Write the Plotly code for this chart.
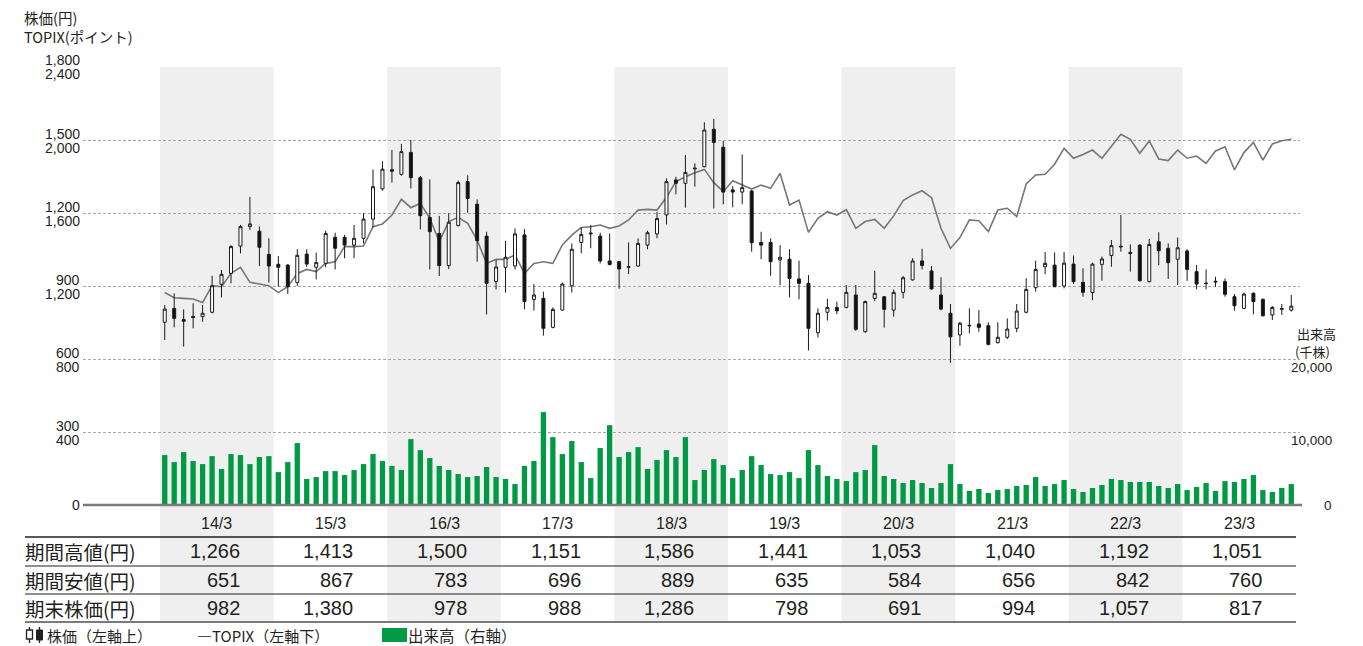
import plotly.graph_objects as go

# ---- data -------------------------------------------------------------
years = ["14/3", "15/3", "16/3", "17/3", "18/3", "19/3", "20/3", "21/3", "22/3", "23/3"]
period_high = [1266, 1413, 1500, 1151, 1586, 1441, 1053, 1040, 1192, 1051]
period_low = [651, 867, 783, 696, 889, 635, 584, 656, 842, 760]
period_close = [982, 1380, 978, 988, 1286, 798, 691, 994, 1057, 817]

# monthly stock price (yen), April 2013 - March 2023
price_open = [751, 808, 762, 775, 774, 792, 907, 952, 1064, 1144, 1125, 1030,
              989, 986, 914, 1031, 977, 993, 1100, 1100, 1068, 1096, 1175, 1299,
              1378, 1359, 1449, 1345, 1182, 1116, 984, 1148, 1329, 1236, 1105, 918,
              977, 982, 1110, 845, 849, 730, 801, 901, 1079, 1114, 1105, 1003,
              1000, 977, 982, 1068, 1114, 1192, 1336, 1322, 1381, 1390, 1544, 1470,
              1295, 1286, 1290, 1079, 1079, 1007, 1010, 929, 911, 708, 792, 812,
              812, 863, 712, 849, 856, 801, 874, 925, 1003, 962, 863, 788,
              699, 736, 744, 737, 667, 689, 726, 792, 893, 979, 986, 900,
              990, 915, 873, 989, 1025, 1060, 1038, 1068, 918, 1082, 1055, 1010,
              1044, 959, 912, 916, 918, 856, 808, 870, 845, 781, 804, 801]
price_high = [822, 870, 804, 829, 822, 942, 966, 1068, 1151, 1266, 1144, 1096,
              1023, 990, 1051, 1051, 1037, 1127, 1119, 1110, 1151, 1199, 1379, 1413,
              1459, 1484, 1500, 1352, 1338, 1188, 1199, 1333, 1355, 1256, 1123, 1007,
              1085, 1137, 1134, 908, 877, 812, 914, 1075, 1141, 1151, 1119, 1116,
              1003, 1079, 1096, 1127, 1205, 1342, 1349, 1438, 1404, 1573, 1586, 1496,
              1311, 1441, 1295, 1123, 1096, 1068, 1051, 1004, 945, 808, 847, 836,
              904, 904, 840, 962, 859, 886, 941, 1014, 1053, 982, 936, 826,
              753, 808, 801, 751, 751, 767, 826, 932, 1004, 1040, 1038, 1040,
              1025, 973, 996, 1021, 1089, 1192, 1071, 1071, 1093, 1121, 1075, 1099,
              1051, 986, 968, 938, 931, 867, 873, 874, 849, 818, 826, 863]
price_low = [678, 730, 651, 726, 753, 788, 853, 911, 1034, 1130, 982, 914,
             897, 867, 900, 979, 927, 977, 968, 1014, 1014, 1075, 1141, 1292,
             1325, 1353, 1301, 1133, 968, 941, 970, 1145, 1201, 1000, 783, 886,
             873, 968, 804, 799, 696, 726, 799, 873, 1034, 1055, 993, 985,
             889, 949, 979, 1051, 1096, 1153, 1277, 1222, 1308, 1388, 1219, 1236,
             1223, 1236, 1041, 1010, 942, 904, 853, 845, 635, 688, 758, 784,
             808, 716, 708, 838, 729, 774, 849, 922, 968, 885, 800, 584,
             655, 705, 712, 656, 664, 682, 710, 788, 877, 949, 895, 890,
             908, 856, 842, 922, 979, 1041, 959, 918, 915, 986, 929, 904,
             921, 886, 886, 897, 856, 799, 805, 784, 774, 760, 781, 795]
price_close = [805, 767, 755, 771, 788, 901, 948, 1062, 1144, 1155, 1059, 982,
               977, 897, 1026, 990, 996, 1116, 1055, 1068, 1096, 1175, 1308, 1380,
               1372, 1452, 1345, 1189, 1123, 984, 1162, 1325, 1260, 1086, 911, 978,
               1018, 1114, 836, 863, 726, 804, 908, 1051, 1112, 1117, 1003, 988,
               970, 979, 1075, 1119, 1177, 1329, 1322, 1367, 1384, 1541, 1490, 1286,
               1286, 1304, 1078, 1068, 1000, 1018, 931, 911, 726, 788, 812, 798,
               874, 722, 836, 870, 804, 874, 934, 1003, 984, 888, 805, 691,
               747, 738, 730, 660, 689, 723, 797, 886, 968, 993, 897, 994,
               918, 874, 990, 1011, 1066, 1063, 1034, 922, 1071, 1045, 996, 1057,
               968, 908, 910, 919, 866, 819, 867, 836, 778, 812, 807, 817]

# TOPIX (points), monthly close
topix = [1164, 1136, 1132, 1129, 1109, 1202, 1196, 1269, 1302, 1220, 1211, 1202,
         1164, 1196, 1269, 1291, 1279, 1324, 1333, 1416, 1416, 1419, 1525, 1540,
         1589, 1675, 1629, 1653, 1571, 1443, 1553, 1576, 1543, 1452, 1324, 1346,
         1346, 1370, 1269, 1324, 1333, 1324, 1425, 1479, 1521, 1525, 1534, 1516,
         1529, 1562, 1616, 1620, 1616, 1686, 1772, 1799, 1821, 1839, 1766, 1717,
         1777, 1753, 1731, 1753, 1735, 1817, 1644, 1671, 1494, 1571, 1607, 1589,
         1618, 1516, 1553, 1565, 1516, 1584, 1668, 1699, 1722, 1684, 1516, 1406,
         1465, 1562, 1558, 1498, 1616, 1626, 1580, 1759, 1808, 1812, 1867, 1954,
         1900, 1921, 1945, 1900, 1963, 2031, 2004, 1927, 1995, 1896, 1887, 1945,
         1900, 1912, 1872, 1940, 1963, 1836, 1931, 1987, 1890, 1978, 1996, 2004]

# trading volume (thousand shares)
volume = [6840, 5880, 7250, 6020, 5610, 6700, 4930, 6980, 6840, 5610, 6570, 6700,
          4510, 5880, 8480, 3560, 3830, 4650, 4650, 4100, 4790, 5610, 6980, 6020,
          5340, 4790, 9030, 7520, 6430, 5340, 4790, 4240, 3830, 3970, 5200, 3830,
          3560, 2870, 5340, 6020, 12720, 9300, 6980, 8760, 5880, 3690, 7800, 10940,
          6570, 7250, 7930, 4930, 6160, 7520, 6570, 9300, 3420, 4790, 6290, 5470,
          3690, 4790, 6700, 5470, 4240, 4100, 4510, 3690, 7520, 5470, 3970, 3560,
          3280, 4510, 4790, 8210, 3970, 3560, 3010, 3420, 3010, 2330, 3010, 5610,
          2870, 1920, 2190, 1640, 2050, 2190, 2600, 2740, 3830, 2600, 2870, 3420,
          2190, 1780, 2330, 2740, 3560, 3420, 3150, 3150, 3150, 2600, 2330, 2870,
          2050, 2460, 3010, 1920, 3280, 3150, 3560, 4100, 2050, 1780, 2330, 2870]

price_ticks = [300, 600, 900, 1200, 1500, 1800]
topix_ticks = [400, 800, 1200, 1600, 2000, 2400]
volume_ticks = [10000, 20000]

row_labels = ["期間高値(円)", "期間安値(円)", "期末株価(円)"]

months = list(range(len(price_close)))

# ---- geometry helpers (page pixels -> paper) ---------------------------
W, H = 1363, 646
L, R, T, B = 83, 1300, 67, 505
MONTH_PX = 1136 / 120.0
X0 = -0.5 - (160 - L) / MONTH_PX
X1 = 119.5 + (R - 1296) / MONTH_PX


def px(xp):
    return (xp - L) / (R - L)


def py(yp):
    return (B - yp) / (B - T)


NUM = "Liberation Sans Narrow, Liberation Sans, Arial, sans-serif"
JP = "Noto Sans CJK JP, sans-serif"
INK = "#231f20"
GREEN = "#009a44"

fig = go.Figure()

fig.add_trace(go.Bar(
    x=months, y=volume, width=0.56, marker=dict(color=GREEN, line=dict(width=0)),
    yaxis="y", hoverinfo="skip", showlegend=False))

fig.add_trace(go.Scatter(
    x=months, y=topix, mode="lines", line=dict(color="#767676", width=1.6),
    yaxis="y2", hoverinfo="skip", showlegend=False))

fig.add_trace(go.Candlestick(
    x=months, open=price_open, high=price_high, low=price_low, close=price_close,
    increasing=dict(line=dict(color="#1a1a1a", width=1), fillcolor="#ffffff"),
    decreasing=dict(line=dict(color="#1a1a1a", width=1), fillcolor="#111111"),
    whiskerwidth=0, yaxis="y3", hoverinfo="skip", showlegend=False))

shapes = []
# alternating fiscal-year bands (chart + table)
for i in range(0, len(years), 2):
    shapes.append(dict(type="rect", xref="x", yref="paper",
                       x0=12 * i - 0.5, x1=12 * i + 11.5, y0=py(622), y1=1,
                       fillcolor="#efefef", line=dict(width=0), layer="below"))
# zero line
shapes.append(dict(type="line", xref="paper", yref="paper", x0=0, x1=px(1302),
                   y0=0, y1=0, line=dict(color="#7b7b7b", width=2.5)))
# table rules
for yy, col, wdt in [(537, "#231f20", 1.5), (566, "#231f20", 1.2),
                     (594, "#231f20", 1.2), (622, "#7b7b7b", 2.2)]:
    shapes.append(dict(type="line", xref="paper", yref="paper",
                       x0=px(25), x1=px(1296), y0=py(yy), y1=py(yy),
                       line=dict(color=col, width=wdt)))
# legend swatches
shapes += [
    dict(type="line", xref="paper", yref="paper", x0=px(29.5), x1=px(29.5),
         y0=py(627), y1=py(643), line=dict(color=INK, width=1.3)),
    dict(type="rect", xref="paper", yref="paper", x0=px(26.5), x1=px(32.5),
         y0=py(630), y1=py(639), fillcolor="#ffffff", line=dict(color=INK, width=1.3)),
    dict(type="line", xref="paper", yref="paper", x0=px(39.5), x1=px(39.5),
         y0=py(627), y1=py(643), line=dict(color=INK, width=1.3)),
    dict(type="rect", xref="paper", yref="paper", x0=px(36.5), x1=px(42.5),
         y0=py(630), y1=py(640), fillcolor=INK, line=dict(color=INK, width=1)),
    dict(type="rect", xref="paper", yref="paper", x0=px(382), x1=px(407),
         y0=py(628), y1=py(642), fillcolor=GREEN, line=dict(width=0)),
]

ann = []


def label(text, x, y, size, font=NUM, anchor="right", color=INK, xref="paper", yref="paper"):
    ann.append(dict(text=text, x=x, y=y, xref=xref, yref=yref, showarrow=False,
                    xanchor=anchor, yanchor="middle", borderpad=0,
                    font=dict(family=font, size=size, color=color)))


# left axis labels: stock price above the rule, TOPIX below
for p, t in zip(price_ticks, topix_ticks):
    yy = B - p / 1800.0 * (B - T)
    label(f"{p:,}", px(81), py(yy - 6.5), 14)
    label(f"{t:,}", px(81), py(yy + 7.5), 14)
label("0", px(81), py(505), 14)

# right axis labels (volume)
for v in volume_ticks:
    yy = B - v / 60000.0 * (B - T)
    label(f"{v:,}", px(1333), py(yy + 8), 13.5)
label("0", px(1333), py(505), 13.5)

# axis titles
label("株価(円)", px(23), py(17), 14.5, font=JP, anchor="left")
label("TOPIX(ポイント)", px(23), py(37), 14.5, font=JP, anchor="left")
label("出来高", px(1296), py(333), 13, font=JP, anchor="left")
label("(千株)", px(1294), py(351), 13, font=JP, anchor="left")

# data table
for i, yr in enumerate(years):
    cx = 12 * i + 5.5
    ann.append(dict(text=yr, x=cx, y=py(523), xref="x", yref="paper", showarrow=False,
                    xanchor="center", yanchor="middle", borderpad=0,
                    font=dict(family=NUM, size=16, color=INK)))
    for vals, yy in [(period_high, 551), (period_low, 580), (period_close, 608)]:
        ann.append(dict(text=f"{vals[i]:,}", x=cx, y=py(yy), xref="x", yref="paper",
                        showarrow=False, xanchor="right", yanchor="middle", xshift=24,
                        borderpad=0, font=dict(family=NUM, size=20, color=INK)))
for lab, yy in zip(row_labels, [551, 580, 608]):
    label(lab, px(24), py(yy), 19.5, font=JP, anchor="left")

# legend texts
label("株価（左軸上）", px(46), py(635), 15, font=JP, anchor="left")
label("―TOPIX（左軸下）", px(196), py(635), 15, font=JP, anchor="left")
label("出来高（右軸）", px(407), py(635), 15.5, font=JP, anchor="left")

fig.update_layout(
    width=W, height=H, margin=dict(l=L, r=W - R, t=T, b=H - B, pad=0),
    paper_bgcolor="#ffffff", plot_bgcolor="rgba(0,0,0,0)",
    boxgap=0.55, bargap=0.4,
    showlegend=False,
    xaxis=dict(range=[X0, X1], showgrid=False, zeroline=False, showline=False,
               showticklabels=False, ticks="", rangeslider=dict(visible=False),
               fixedrange=True),
    yaxis=dict(range=[0, 60000], dtick=10000, tick0=0, showgrid=True,
               gridcolor="#a8a8a8", gridwidth=1, griddash="3px,2px",
               zeroline=False, showticklabels=False, ticks="", fixedrange=True),
    yaxis2=dict(range=[0, 2400], overlaying="y", visible=False, fixedrange=True),
    yaxis3=dict(range=[0, 1800], overlaying="y", visible=False, fixedrange=True),
    shapes=shapes, annotations=ann,
)

fig.write_html("out.html")
